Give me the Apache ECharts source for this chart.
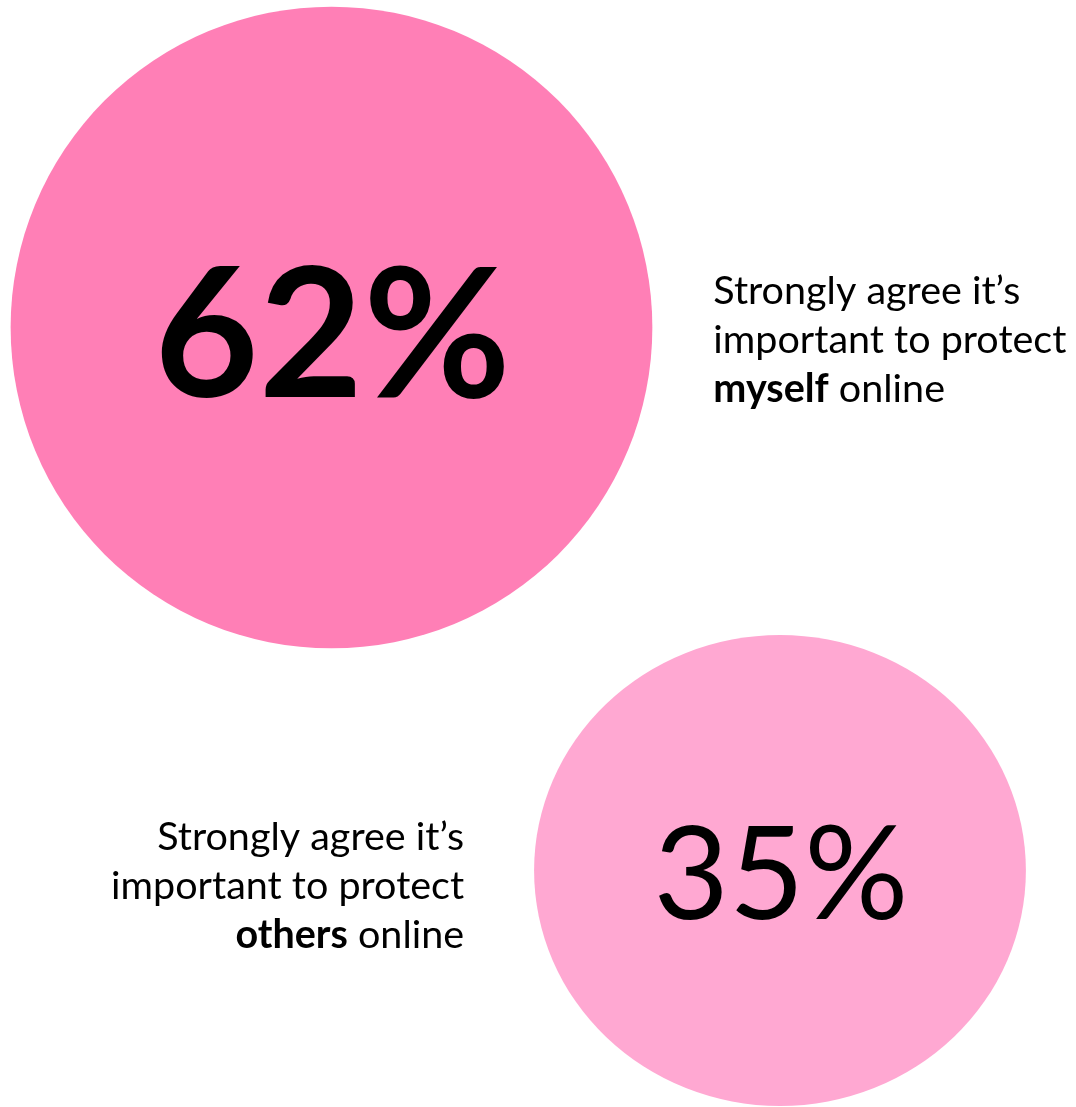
<!DOCTYPE html>
<html><head><meta charset="utf-8">
<script src="https://cdn.jsdelivr.net/npm/echarts@6/dist/echarts.min.js"></script>
<style>html,body{margin:0;padding:0;background:#fff}#c{width:1076px;height:1107px}</style>
</head><body><div id="c"></div>
<script>
const categories = ['myself', 'others'];
const xIndex = [0, 1];
const yIndex = [0, 1];
const values = [62, 35];
const valueLabels = ['62%', '35%'];
const descLine1 = ['Strongly agree it\u2019s', 'Strongly agree it\u2019s'];
const descLine2 = ['important to protect', 'important to protect'];
const descBold = ['myself', 'others'];
const descTail = [' online', ' online'];

const colors = ['#FF7FB6', '#FFA8D2'];
const stretch = [[1, 1], [1.02, 0.977]];
const K = 81.5;
const FONT = 'Lato';

function sizeOf(i) {
  const s = K * Math.sqrt(values[i]);
  return [s * stretch[i][0], s * stretch[i][1]];
}

const bubbleData = categories.map((c, i) => ({
  name: c,
  value: [xIndex[i], yIndex[i], values[i]],
  symbolSize: sizeOf(i),
  itemStyle: { color: colors[i], opacity: 1 },
  label: {
    show: true, position: 'inside',
    formatter: valueLabels[i],
    color: '#000',
    fontFamily: FONT,
    fontWeight: i === 0 ? 'bold' : 'normal',
    fontSize: i === 0 ? 180 : 130,
    offset: i === 0 ? [1, 11] : [1, 7]
  }
}));

const descData = categories.map((c, i) => ({
  name: c,
  value: [xIndex[i], yIndex[i], values[i]],
  symbolSize: sizeOf(i),
  itemStyle: { color: 'rgba(0,0,0,0)', opacity: 1 },
  label: {
    show: true,
    position: i === 0 ? 'right' : 'left',
    distance: i === 0 ? 61 : 70,
    offset: i === 0 ? [0, 13] : [0, 16],
    align: i === 0 ? 'left' : 'right',
    formatter: descLine1[i] + '\n' + descLine2[i] + '\n{b|' + descBold[i] + '}' + descTail[i],
    color: '#000',
    fontFamily: FONT,
    fontSize: 39.5,
    lineHeight: 49,
    rich: { b: { fontWeight: 'bold', fontFamily: FONT, fontSize: 39.5, lineHeight: 49, color: '#000' } }
  }
}));

const chart = echarts.init(document.getElementById('c'), null, { renderer: 'canvas' });
chart.setOption({
  backgroundColor: '#fff',
  animation: false,
  grid: { left: 0, top: 0, right: 0, bottom: 0 },
  xAxis: { type: 'value', min: -0.7391, max: 1.6600, show: false },
  yAxis: { type: 'value', inverse: true, min: -0.6031, max: 1.4355, show: false },
  series: [
    { type: 'scatter', data: bubbleData, z: 2, itemStyle: { opacity: 1 } },
    { type: 'scatter', data: descData, z: 3, silent: true }
  ]
});
</script></body></html>
